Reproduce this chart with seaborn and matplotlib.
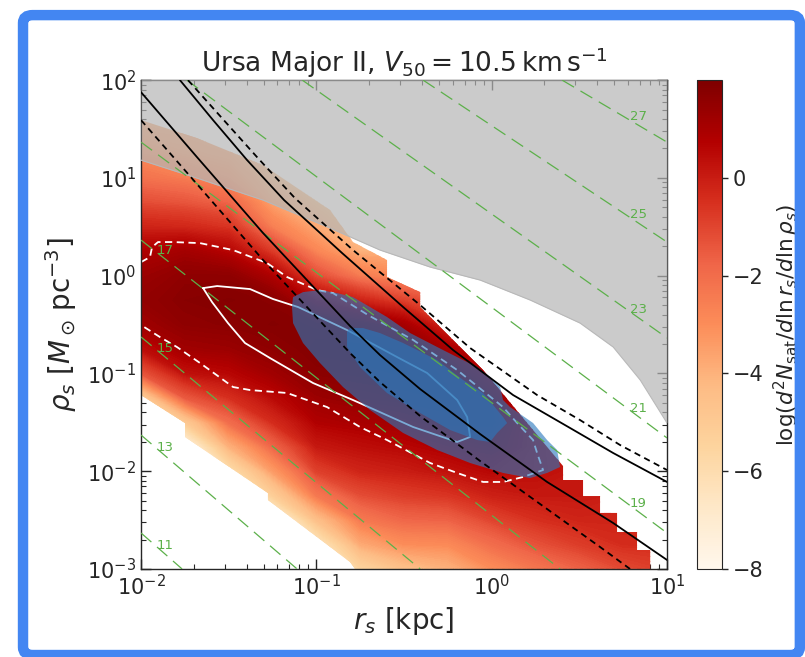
import numpy as np
import matplotlib
matplotlib.use("Agg")
import matplotlib.pyplot as plt
import seaborn as sns
from matplotlib.patches import FancyBboxPatch, Polygon
from matplotlib.colors import Normalize
from matplotlib.cm import ScalarMappable

nan = np.nan

# ---- data (log10 values) ----
# density grid: log10 r_s [kpc] (columns) x log10 rho_s (rows)
log_rs_grid = [-2.0, -1.75, -1.5, -1.25, -1.0, -0.75, -0.5, -0.25, 0.0, 0.25, 0.5, 0.75, 1.0]
log_rho_grid = [-3.0, -2.75, -2.5, -2.25, -2.0, -1.75, -1.5, -1.25, -1.0, -0.75, -0.5,
                -0.25, 0.0, 0.25, 0.5, 0.75, 1.0, 1.25, 1.5, 1.75, 2.0]

# log(d2N/dlnr/dlnrho), one list per r_s column, from low to high rho_s
log_dens = [
    [nan, nan, nan, nan, nan, -8.0, -7.0, -5.2, -1.4, 0.4, 1.2, 1.5, 1.3, 0.8, -0.2, -1.2, -2.2, -3.0, -3.6, -4.0, nan],
    [nan, nan, nan, nan, -8.0, -7.5, -5.0, -1.5, 0.3, 1.2, 1.6, 1.75, 1.6, 1.1, -0.3, -1.4, -2.5, -3.3, -3.8, -4.2, nan],
    [nan, nan, -8.0, -8.0, -6.0, -4.0, -2.0, -0.5, 0.6, 1.3, 1.7, 1.85, 1.6, 0.6, -0.6, -1.8, -3.0, -3.6, -4.0, nan, nan],
    [nan, -8.0, -7.5, -5.2, -3.4, -1.8, -0.4, 0.5, 1.2, 1.6, 1.85, 1.7, 0.8, -0.8, -2.6, -3.6, -4.2, -4.6, -5.0, nan, nan],
    [-8.0, -6.5, -4.5, -2.4, -0.9, 0.1, 0.8, 1.3, 1.7, 1.9, 1.7, 0.6, -1.2, -2.8, -3.8, -4.3, -4.8, -5.0, nan, nan, nan],
    [-5.5, -3.8, -2.4, -1.2, -0.2, 0.4, 1.0, 1.5, 1.8, 1.9, 1.5, -0.2, -2.5, -4.0, -4.5, -4.8, nan, nan, nan, nan, nan],
    [-4.5, -3.0, -1.8, -0.8, 0.0, 0.6, 1.2, 1.6, 1.85, 1.8, 1.0, -1.0, -3.0, -4.0, nan, nan, nan, nan, nan, nan, nan],
    [-4.0, -2.9, -1.7, -0.6, 0.3, 0.9, 1.4, 1.7, 1.6, 1.0, -0.5, -1.5, -2.5, nan, nan, nan, nan, nan, nan, nan, nan],
    [-3.0, -2.0, -1.0, -0.1, 0.6, 1.1, 1.4, 1.3, 0.6, 0.0, -0.3, nan, nan, nan, nan, nan, nan, nan, nan, nan, nan],
    [-2.3, -1.3, -0.5, 0.1, 0.4, 0.4, 0.3, 0.2, 0.0, nan, nan, nan, nan, nan, nan, nan, nan, nan, nan, nan, nan],
    [-1.7, -0.8, -0.2, 0.1, 0.1, 0.0, 0.0, nan, nan, nan, nan, nan, nan, nan, nan, nan, nan, nan, nan, nan, nan],
    [-1.1, -0.4, -0.2, -0.1, -0.1, nan, nan, nan, nan, nan, nan, nan, nan, nan, nan, nan, nan, nan, nan, nan, nan],
    [-0.8, -0.4, -0.3, nan, nan, nan, nan, nan, nan, nan, nan, nan, nan, nan, nan, nan, nan, nan, nan, nan, nan],
]

# outline of the populated region of the grid
band_lr = [-2.0, -2.0, -1.749, -1.749, -1.276, -1.276, -0.808, -0.779, 0.904, 0.904, 0.829, 0.829,
           0.715, 0.715, 0.618, 0.618, 0.521, 0.521, 0.407, 0.407, -0.049, -0.408, -0.408,
           -0.597, -0.597, -0.791, -0.922, -1.304, -1.681]
band_lp = [1.591, -1.221, -1.507, -1.650, -2.223, -2.294, -2.928, -3.0, -3.0, -2.806, -2.806, -2.622,
           -2.622, -2.427, -2.427, -2.254, -2.254, -2.090, -2.090, -1.947, -0.965, -0.321, -0.168,
           -0.014, 0.160, 0.344, 0.671, 1.131, 1.407]

# white contours (closed loops)
inner_ctr_lr = [-1.646, -1.566, -1.378, -1.247, -1.104, -0.825, -0.540, -0.368, -0.197, -0.140, -0.123,
                -0.197, -0.448, -0.791, -1.019, -1.264, -1.407, -1.504, -1.595, -1.646]
inner_ctr_lp = [-0.127, -0.106, -0.137, -0.239, -0.321, -0.556, -0.832, -0.996, -1.272, -1.446, -1.650,
                -1.701, -1.548, -1.272, -1.098, -0.843, -0.689, -0.485, -0.270, -0.127]
outer_ctr_lr = [-2.0, -1.949, -1.937, -1.903, -1.817, -1.663, -1.475, -1.281, -1.167, -0.996, -0.905,
                -0.705, -0.448, -0.197, 0.065, 0.145, 0.236, 0.259, 0.293, 0.179, 0.065, -0.049,
                -0.197, -0.351, -0.597, -0.751, -0.939, -1.167, -1.378, -1.475, -1.663, -1.795,
                -1.892, -2.0]
outer_ctr_lp = [0.139, 0.190, 0.292, 0.344, 0.344, 0.333, 0.262, 0.129, -0.014, -0.147, -0.178,
                -0.403, -0.658, -0.965, -1.344, -1.507, -1.681, -1.814, -1.988, -2.059, -2.110, -2.110,
                -2.018, -1.916, -1.681, -1.548, -1.344, -1.200, -1.170, -1.139, -0.894, -0.730,
                -0.628, -0.505]

# blue posterior regions
blue_outer_lr = [-1.139, -1.133, -1.076, -0.979, -0.882, -0.791, -0.597, -0.465, -0.277, -0.083, -0.009,
                 0.048, 0.065, 0.105, 0.236, 0.316, 0.373, 0.390, 0.316, 0.219, 0.065, -0.123, -0.311,
                 -0.505, -0.694, -0.848, -0.979, -1.076, -1.133]
blue_outer_lp = [-0.321, -0.219, -0.168, -0.147, -0.178, -0.219, -0.423, -0.587, -0.761, -0.935, -1.037,
                 -1.139, -1.272, -1.344, -1.507, -1.681, -1.783, -1.957, -2.018, -2.070, -2.018, -1.916,
                 -1.783, -1.609, -1.374, -1.139, -0.894, -0.689, -0.485]
blue_inner_lr = [-0.825, -0.808, -0.734, -0.637, -0.505, -0.311, -0.163, -0.049, 0.065, 0.088, 0.031,
                 -0.009, -0.083, -0.237, -0.408, -0.597, -0.751, -0.825]
blue_inner_lp = [-0.577, -0.536, -0.536, -0.587, -0.689, -0.863, -1.067, -1.200, -1.446, -1.507, -1.609,
                 -1.701, -1.681, -1.579, -1.405, -1.200, -0.935, -0.730]

# excluded (grey) region, lower boundary
grey_lr = [-2.0, -1.681, -1.304, -0.922, -0.637, -0.351, -0.066, 0.219, 0.504, 0.693, 0.847, 1.0]
grey_lp = [1.182, 0.998, 0.773, 0.487, 0.262, 0.088, -0.045, -0.249, -0.485, -0.730, -1.067, -1.507]

# black curves
s1_lr = [-2.0, -1.681, -1.304, -0.979, -0.808, -0.637, -0.408, -0.066, 0.316, 0.693, 1.0]
s1_lp = [1.877, 1.213, 0.436, -0.188, -0.515, -0.812, -1.160, -1.620, -2.110, -2.530, -2.908]
d1_lr = [-2.0, -1.681, -1.304, -0.979, -0.808, -0.637, -0.408, -0.066, 0.316, 0.618, 0.789]
d1_lp = [1.591, 0.937, 0.160, -0.464, -0.791, -1.088, -1.436, -1.896, -2.387, -2.775, -3.0]
s2_lr = [-1.778, -1.589, -1.395, -1.184, -0.853, -0.505, -0.220, 0.122, 0.447, 0.693, 1.0]
s2_lp = [2.0, 1.591, 1.182, 0.773, 0.231, -0.321, -0.761, -1.221, -1.558, -1.814, -2.110]
d2_lr = [-1.732, -1.538, -1.333, -1.122, -0.791, -0.408, -0.123, 0.259, 0.504, 0.732, 1.0]
d2_lp = [2.0, 1.611, 1.202, 0.793, 0.262, -0.301, -0.740, -1.221, -1.477, -1.732, -1.988]

# green iso-lines: label, start point, end point (log10)
green_labels = [11, 13, 15, 17, 19, 21, 23, 25, 27]
green_lr0 = [-2.0, -2.0, -2.0, -2.0, -2.0, -1.738, -1.08, -0.391, 0.402]
green_lp0 = [-2.632, -1.630, -0.627, 0.364, 1.366, 2.0, 2.0, 2.0, 2.0]
green_lr1 = [-1.766, -1.110, -0.408, 0.39, 1.0, 1.0, 1.0, 1.0, 1.0]
green_lp1 = [-3.0, -3.0, -3.0, -3.0, -2.632, -1.660, -0.637, 0.344, 1.366]

# ---- plotting ----
sns.set_style("ticks")
plt.rcParams["font.family"] = ["DejaVu Sans"]
plt.rcParams["mathtext.fontset"] = "dejavusans"

fig = plt.figure(figsize=(8.05, 6.57), dpi=100)
ax = fig.add_axes([0.1752, 0.134, 0.6534, 0.744])
ax.set_xscale("log")
ax.set_yscale("log")
ax.set_xlim(1e-2, 1e1)
ax.set_ylim(1e-3, 1e2)


def p10(v):
    return 10 ** np.asarray(v, dtype=float)


R, RHO = np.meshgrid(p10(log_rs_grid), p10(log_rho_grid))
Z = np.ma.masked_invalid(np.array(log_dens, dtype=float).T)
cs = ax.contourf(R, RHO, Z, levels=np.linspace(-8, 2, 121), cmap="OrRd",
                 antialiased=False, zorder=1)
band = Polygon(np.column_stack([p10(band_lr), p10(band_lp)]), closed=True,
               transform=ax.transData)
cs.set_clip_path(band)

# white contours
ax.plot(p10(outer_ctr_lr), p10(outer_ctr_lp), color="white", lw=1.3, ls=(0, (4, 2.5)), zorder=2)
ax.plot(p10(inner_ctr_lr), p10(inner_ctr_lp), color="white", lw=1.3, zorder=2)

# blue regions
blue = "#2a78bd"
ax.fill(p10(blue_outer_lr), p10(blue_outer_lp), color=blue, alpha=0.62, lw=0, zorder=3)
ax.fill(p10(blue_inner_lr), p10(blue_inner_lp), color=blue, alpha=0.62, lw=0, zorder=3)

# grey excluded region
ax.fill_between(p10(grey_lr), p10(grey_lp), 1e3, color="0.71", alpha=0.7, lw=0, zorder=4)
ax.plot(p10(grey_lr), p10(grey_lp), color="0.72", lw=0.8, zorder=4)

# green lines with labels
green = "#5cb04a"
for lab, a0, b0, a1, b1 in zip(green_labels, green_lr0, green_lp0, green_lr1, green_lp1):
    sns.lineplot(x=p10([a0, a1]), y=p10([b0, b1]), ax=ax, color=green, lw=0.9,
                 linestyle=(0, (11, 6)), sort=False, estimator=None, zorder=5)
    lx = -1.863 if lab <= 17 else 0.835
    ly = b0 + (b1 - b0) * (lx - a0) / (a1 - a0)
    ax.annotate(str(lab), (10 ** lx, 10 ** ly), xytext=(0, 6), textcoords="offset points",
                ha="center", va="center", color=green, fontsize=9.5, zorder=7)

# black curves
for lr, lp, ls in [(s1_lr, s1_lp, "-"), (d1_lr, d1_lp, (0, (3.5, 2.5))),
                   (s2_lr, s2_lp, "-"), (d2_lr, d2_lp, (0, (3.5, 2.5)))]:
    sns.lineplot(x=p10(lr), y=p10(lp), ax=ax, color="black", lw=1.3, linestyle=ls,
                 sort=False, estimator=None, zorder=6)

ax.set_xlim(1e-2, 1e1)
ax.set_ylim(1e-3, 1e2)
ax.tick_params(which="both", direction="in", top=True, right=True, labelsize=15)
ax.tick_params(which="major", length=7, width=1)
ax.tick_params(which="minor", length=3.5, width=0.8)
for s in ax.spines.values():
    s.set_linewidth(1.0)
ax.set_xlabel(r"$r_s$ [kpc]", fontsize=20, labelpad=4)
ax.set_ylabel(r"$\rho_s\ [M_\odot\,\mathrm{pc}^{-3}]$", fontsize=20, labelpad=6)
ax.set_title(r"Ursa Major II, $V_{50} = 10.5\,\mathrm{km\,s^{-1}}$", fontsize=19, pad=5)

# colorbar
cax = fig.add_axes([0.866, 0.134, 0.031, 0.744])
cb = fig.colorbar(ScalarMappable(norm=Normalize(-8, 2), cmap="OrRd"), cax=cax,
                  ticks=[-8, -6, -4, -2, 0])
cb.ax.tick_params(labelsize=15, length=4, width=1)
cb.set_label(r"$\log(d^2N_{\rm sat}/d\ln r_s/d\ln\rho_s)$", fontsize=15.5, labelpad=6)

# blue frame around the figure
fig.patches.append(FancyBboxPatch((0.0286, 0.003), 0.965, 0.974,
                                  boxstyle="round,pad=0,rounding_size=0.012",
                                  transform=fig.transFigure, fill=False,
                                  ec="#4386f2", lw=7.5))

fig.savefig("out.png", dpi=100)
